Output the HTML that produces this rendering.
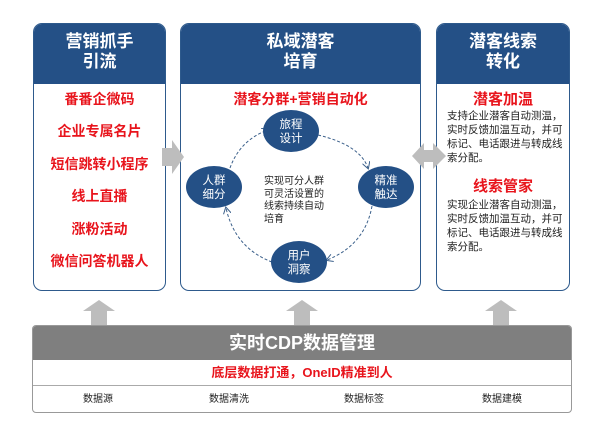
<!DOCTYPE html>
<html><head><meta charset="utf-8"><style>
body{margin:0;width:600px;height:421px;background:#fff;position:relative;overflow:hidden;font-family:"Liberation Sans","Noto Sans CJK SC",sans-serif}
.p{position:absolute;border:1.5px solid #2e5a8c;border-radius:9px;background:#fff;overflow:hidden;box-sizing:border-box}
.h{background:#245086;color:#fff;font-weight:bold;font-size:17px;line-height:20px;text-align:center;box-sizing:border-box}
.r{color:#e8141c;font-weight:bold;text-align:center;position:absolute;left:0;right:0}
.a{position:absolute}
.t{position:absolute;font-size:10.5px;line-height:14px;color:#222}
</style></head><body>
<div class="p" style="left:33px;top:23px;width:133px;height:268px">
 <div class="h" style="height:60px;padding-top:8px">营销抓手<br>引流</div>
 <div class="r" style="top:65px;font-size:14px">番番企微码</div>
 <div class="r" style="top:97px;font-size:14px">企业专属名片</div>
 <div class="r" style="top:130px;font-size:14px">短信跳转小程序</div>
 <div class="r" style="top:162px;font-size:14px">线上直播</div>
 <div class="r" style="top:195px;font-size:14px">涨粉活动</div>
 <div class="r" style="top:227px;font-size:14px">微信问答机器人</div>
</div>
<div class="p" style="left:180px;top:23px;width:241px;height:268px">
 <div class="h" style="height:60px;padding-top:8px">私域潜客<br>培育</div>
 <div class="r" style="top:65px;font-size:14px">潜客分群+营销自动化</div>
</div>
<div class="p" style="left:436px;top:23px;width:134px;height:268px">
 <div class="h" style="height:60px;padding-top:8px">潜客线索<br>转化</div>
 <div class="r" style="top:64px;font-size:15px">潜客加温</div>
 <div class="t" style="left:10px;top:85px;width:120px">支持企业潜客自动测温，实时反馈加温互动，并可标记、电话跟进与转成线索分配。</div>
 <div class="r" style="top:151px;font-size:15px">线索管家</div>
 <div class="t" style="left:10px;top:174px;width:120px">实现企业潜客自动测温，实时反馈加温互动，并可标记、电话跟进与转成线索分配。</div>
</div>
<svg class="a" style="left:0;top:0" width="600" height="421">
 <defs><marker id="m" markerWidth="8" markerHeight="8" refX="6" refY="4" orient="auto"><path d="M0,0 L7,4 L0,8" fill="none" stroke="#3a5f8a" stroke-width="1"/></marker></defs>
 <g fill="none" stroke="#3a5f8a" stroke-width="1" stroke-dasharray="3,2">
  <path d="M230,168 Q240,140 268,130" marker-end="url(#m)"/>
  <path d="M318,135 Q360,145 368,168" marker-end="url(#m)"/>
  <path d="M372,206 Q365,245 327,260" marker-end="url(#m)"/>
  <path d="M272,262 Q235,248 226,208" marker-end="url(#m)"/>
 </g>
 <g fill="#245086">
  <ellipse cx="291" cy="131" rx="28" ry="21"/>
  <ellipse cx="214" cy="187" rx="28" ry="21"/>
  <ellipse cx="386" cy="187" rx="28" ry="21"/>
  <ellipse cx="299" cy="262" rx="28" ry="21"/>
 </g>
 <g fill="#fff" font-size="11.5" text-anchor="middle" font-family="Liberation Sans,Noto Sans CJK SC,sans-serif">
  <text x="291" y="128">旅程</text><text x="291" y="142">设计</text>
  <text x="214" y="184">人群</text><text x="214" y="198">细分</text>
  <text x="386" y="184">精准</text><text x="386" y="198">触达</text>
  <text x="299" y="259">用户</text><text x="299" y="273">洞察</text>
 </g>
 <g fill="#bdbdbd">
  <polygon points="162,148 172,148 172,140 184,157 172,174 172,166 162,166"/>
  <polygon points="412,156 424,143 424,150 433,150 433,143 446,156 433,169 433,162 424,162 424,169"/>
  <polygon points="99,300 115,311 107,311 107,328 91,328 91,311 83,311"/>
  <polygon points="302,300 318,311 310,311 310,328 294,328 294,311 286,311"/>
  <polygon points="501,300 517,311 509,311 509,328 493,328 493,311 485,311"/>
 </g>
</svg>
<div class="t" style="left:264px;top:176px;width:60px;font-size:10px;line-height:12.5px">实现可分人群可灵活设置的线索持续自动培育</div>
<div style="position:absolute;left:32px;top:325px;width:540px;height:88px;border:1px solid #999;border-radius:4px;box-sizing:border-box;overflow:hidden">
 <div style="height:34px;background:#7f7f7f;color:#fff;font-weight:bold;font-size:18px;line-height:34px;text-align:center">实时CDP数据管理</div>
 <div style="height:25px;border-bottom:1px solid #aaa;color:#e8141c;font-weight:bold;font-size:13px;line-height:25px;text-align:center">底层数据打通，OneID精准到人</div>
 <div style="position:relative;font-size:10px;color:#222;height:27px;line-height:27px">
  <span style="position:absolute;left:50px">数据源</span>
  <span style="position:absolute;left:176px">数据清洗</span>
  <span style="position:absolute;left:311px">数据标签</span>
  <span style="position:absolute;left:449px">数据建模</span>
 </div>
</div>
</body></html>
